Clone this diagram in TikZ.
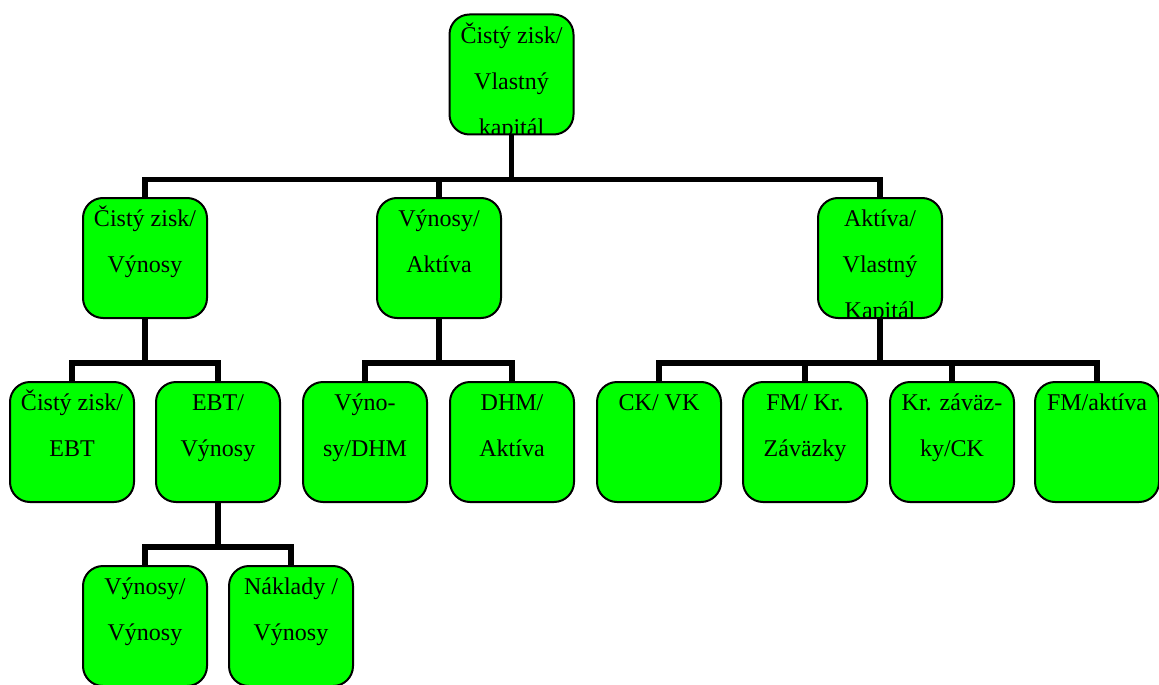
\documentclass[tikz,border=0pt]{standalone}
\usepackage{fontspec}
\setmainfont{Liberation Serif}
\newfontfamily\boxfont{Liberation Serif}
\usetikzlibrary{positioning}
\definecolor{boxgreen}{RGB}{0,255,0}

\begin{document}
\begin{tikzpicture}[
  x=0.5pt, y=-0.5pt,
  lab/.style={anchor=north, align=center, inner sep=0pt, minimum size=0pt,
    draw=none, fill=none, rounded corners=0pt,
    font=\boxfont\fontsize{12}{23}\selectfont},
  box/.style={draw, line width=1pt, fill=boxgreen, rounded corners=10pt,
    minimum width=62pt, minimum height=60pt, inner sep=0pt,
    path picture={\node[lab] at ([yshift=2.2pt]path picture bounding box.north)
      {\rule{0pt}{16pt}#1};}},
  conn/.style={line width=2.6pt}
]
\useasboundingbox (0,0) rectangle (1159,684);

% Nodes
\node[box={Čistý zisk/\\Vlastný\\kapitál}] (ROE) at (511.5,74.5) {};

\node[box={Čistý zisk/\\Výnosy}]       (NPM) at (145,258) {};
\node[box={Výnosy/\\Aktíva}]           (TA)  at (439,258) {};
\node[box={Aktíva/\\Vlastný\\Kapitál}] (EM)  at (880,258) {};

\node[box={Čistý zisk/\\EBT}]   (ZE) at (72,442) {};
\node[box={EBT/\\Výnosy}]       (EV) at (218,442) {};
\node[box={Výno-\\sy/DHM}]      (VD) at (365,442) {};
\node[box={DHM/\\Aktíva}]       (DA) at (512,442) {};
\node[box={CK/ VK}]             (CV) at (659,442) {};
\node[box={FM/ Kr.\\Záväzky}]   (FK) at (805,442) {};
\node[box={Kr. záväz-\\ky/CK}]  (KC) at (952,442) {};
\node[box={FM/aktíva}]          (FA) at (1097,442) {};

\node[box={Výnosy/\\Výnosy}]    (VV) at (145,626) {};
\node[box={Náklady /\\Výnosy}]  (NV) at (291,626) {};

% Connectors
\foreach \c in {NPM,TA,EM}
  \draw[conn] (ROE.south) -- ++(0,44) -| (\c.north);
\foreach \c in {ZE,EV}
  \draw[conn] (NPM.south) -- ++(0,44) -| (\c.north);
\foreach \c in {VD,DA}
  \draw[conn] (TA.south) -- ++(0,44) -| (\c.north);
\foreach \c in {CV,FK,KC,FA}
  \draw[conn] (EM.south) -- ++(0,44) -| (\c.north);
\foreach \c in {VV,NV}
  \draw[conn] (EV.south) -- ++(0,44) -| (\c.north);

\end{tikzpicture}
\end{document}
